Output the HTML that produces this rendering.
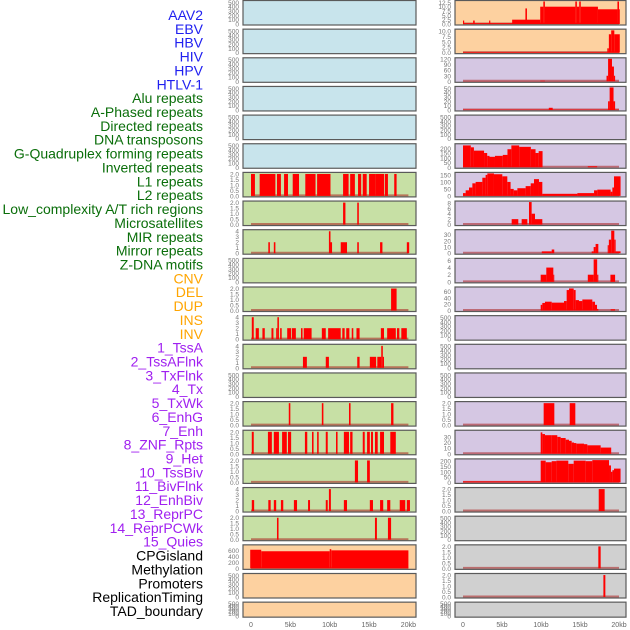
<!DOCTYPE html>
<html><head><meta charset="utf-8">
<style>
html,body{margin:0;padding:0;background:#fff;}
svg{display:block;font-family:"Liberation Sans",sans-serif;}
</style></head>
<body>
<svg id="chart" width="630" height="630" viewBox="0 0 630 630"></svg>
<script>
// ---- labels ----
const trackLabels = ["AAV2","EBV","HBV","HIV","HPV","HTLV-1","Alu repeats","A-Phased repeats","Directed repeats","DNA transposons","G-Quadruplex forming repeats","Inverted repeats","L1 repeats","L2 repeats","Low_complexity A/T rich regions","Microsatellites","MIR repeats","Mirror repeats","Z-DNA motifs","CNV","DEL","DUP","INS","INV","1_TssA","2_TssAFlnk","3_TxFlnk","4_Tx","5_TxWk","6_EnhG","7_Enh","8_ZNF_Rpts","9_Het","10_TssBiv","11_BivFlnk","12_EnhBiv","13_ReprPC","14_ReprPCWk","15_Quies","CPGisland","Methylation","Promoters","ReplicationTiming","TAD_boundary"];
const labelGroups = [6,13,5,15,5];
const groupColors = ["#2020f0","#0a6e0a","#ffa500","#a020f0","#000000"];
const xTickKb = [0,5,10,15,20];
const xTickText = ["0","5kb","10kb","15kb","20kb"];

// ---- tick sets ----
const T500 = [0,100,200,300,400,500];
const T2 = [0,0.5,1,1.5,2];
const T4 = [0,1,2,3,4];
const T10 = [0,2.5,5,7.5,10];
const T12 = [0,2.5,5,7.5,10,12.5];

// ---- left column data [startKb, endKb, value] ----
const segL6 = [[0,0.5,2],[1.1,3.1,2],[3.3,3.8,2],[4.2,4.7,2],[5.3,6.1,2],[6.9,8.2,2],[8.4,10.1,2],[11.7,12.4,2],[12.6,13.2,2],[13.6,14.0,2],[14.2,14.7,2],[15.0,15.8,2],[15.8,16.9,2],[17.0,17.4,2],[18.2,18.5,2]];
const segL7 = [[11.7,12.0,2],[13.5,13.7,2]];
const segL8 = [[2.2,2.4,2],[2.9,3.1,2],[9.9,10.1,4],[10.1,10.3,2],[11.4,12.2,2],[13.5,13.7,2],[16.4,16.7,2],[19.8,20.1,2]];
const segL10 = [[17.8,18.5,2]];
const segL11 = [[0.1,0.35,4],[0.6,1.0,2],[1.45,1.75,2],[2.6,2.85,2],[3.2,3.35,2],[3.35,3.55,4],[3.7,3.9,2],[4.6,5.1,2],[5.2,5.7,2],[6.35,6.55,2],[6.7,7.7,2],[9.0,9.5,2],[9.8,11.4,2],[11.6,11.9,2],[12.1,12.5,2],[12.8,13.0,2],[13.4,13.8,2],[16.5,16.9,2],[17.3,18.4,2],[18.55,18.85,2],[19.1,19.8,2]];
const segL12 = [[6.6,7.1,2],[9.5,9.9,2],[13.5,13.8,2],[15.1,15.9,2],[16.05,16.55,2],[16.55,16.75,4],[16.75,16.9,2]];
const segL14 = [[4.8,5.0,2],[9.0,9.2,2],[12.45,12.65,2],[17.8,18.1,2]];
const segL15 = [[0.1,0.35,2],[2.15,2.65,2],[2.9,3.55,2],[3.95,4.55,2],[4.7,5.1,2],[6.85,7.15,2],[7.75,7.95,2],[8.4,8.6,2],[9.5,9.75,2],[10.8,11.0,2],[11.8,12.45,2],[12.6,12.9,2],[14.2,14.45,2],[14.75,15.1,2],[15.25,15.5,2],[15.75,16.1,2],[16.4,16.9,2],[17.7,18.4,2]];
const segL16 = [[13.2,13.6,2],[14.75,15.1,2]];
const segL17 = [[0.1,0.4,2],[2.2,2.5,2],[2.9,3.2,2],[3.8,4.1,2],[5.45,5.85,2],[7.25,7.5,2],[9.5,9.75,2],[9.9,10.15,4],[11.8,12.2,2],[15.1,15.5,2],[16.4,16.8,2],[17.3,17.7,2],[18.9,19.6,2],[19.8,20.2,2]];
const segL18 = [[3.3,3.5,2],[15.75,16.0,2],[17.4,17.8,2]];
const segL19 = [[-0.1,1.3,620],[1.3,10.0,570],[10.0,10.2,640],[10.2,20.0,600]];

// ---- right column data ----
const segR0 = [[0,0.15,2],[0,20,0.5],[1.3,1.5,2],[3.35,3.5,2],[6.3,9.9,2.5],[8.0,8.2,9],[9.9,10.3,10],[10.3,10.5,13],[10.5,14.4,10],[14.4,14.6,13],[14.6,14.9,10],[14.9,15.1,13],[15.1,17.3,10],[17.3,19.8,8.5],[19.8,20.0,13],[20.0,20.1,8.5]];
const segR1 = [[0,20,0.3],[18.5,18.7,2],[18.7,19.0,8.5],[19.0,19.4,10.3],[19.4,20.1,8.5]];
const segR2 = [[0,20,1],[9.9,10.5,3],[18.4,18.6,30],[18.6,19.1,125],[19.1,19.35,80],[19.35,19.5,30]];
const segR3 = [[0,20,1],[11.0,11.5,5],[18.6,18.8,20],[18.8,19.3,52],[19.3,19.5,20]];
const segR5 = [[0,1,230],[1,1.4,210],[1.4,2.7,175],[2.7,3.1,150],[3.1,3.4,120],[3.4,4.1,110],[4.1,5.1,120],[5.1,5.7,130],[5.7,6.2,190],[6.2,7.2,230],[7.2,8.7,215],[8.7,9.3,190],[9.3,9.7,150],[9.7,10.2,170],[16.0,17.2,10]];
const segR6 = [[0,0.34,20],[0.34,0.77,40],[0.77,1.2,60],[1.2,1.62,90],[1.62,2.48,100],[2.48,2.9,130],[2.9,3.12,150],[3.12,3.97,165],[3.97,5.04,155],[5.04,5.68,140],[5.68,6.1,100],[6.1,6.5,50],[6.5,6.97,40],[6.97,8.03,55],[8.03,8.68,70],[8.68,9.1,90],[9.1,9.74,120],[9.74,10.17,100],[10.17,14.66,15],[14.66,16.8,20],[16.8,17.22,40],[17.22,18.93,45],[18.93,19.15,30],[19.15,19.36,60],[19.36,20.2,140]];
const segR7 = [[6.24,7.09,2],[7.52,8.25,2],[8.46,8.8,8.5],[8.8,9.23,4],[9.23,10.17,2]];
const segR8 = [[10.1,11.37,3],[11.37,11.7,6],[16.5,16.75,3],[16.75,17.0,10],[17.0,17.35,15],[18.55,18.7,13],[18.7,19.0,22],[19.0,19.4,37],[19.4,19.57,22],[19.57,20.2,3]];
const segR9 = [[9.96,10.68,2],[10.68,11.58,4],[11.58,11.7,2],[16.0,16.75,2],[16.75,17.2,6.5],[17.2,17.35,2],[18.9,19.5,2]];
const segR10 = [[9.96,10.17,18],[10.17,10.51,24],[10.51,11.37,28],[11.37,12.95,25],[12.95,13.29,30],[13.29,13.59,65],[13.59,14.19,70],[14.19,14.44,65],[14.44,14.87,33],[14.87,15.3,30],[15.3,16.58,35],[16.58,16.92,28],[16.92,17.18,18],[17.18,17.35,5],[18.93,19.49,4]];
const segR14 = [[10.34,11.71,2],[13.68,14.4,2]];
const segR15 = [[9.96,10.17,38],[10.17,10.51,35],[10.51,11.37,33],[11.37,12.09,33],[12.09,12.52,30],[12.52,13.16,28],[13.16,13.59,25],[13.59,13.93,23],[13.93,14.23,20],[14.23,14.53,19],[14.53,15.51,18],[15.51,15.94,17],[15.94,17.65,15],[17.65,19.0,11]];
const segR16 = [[0,9.96,10],[9.96,10.6,205],[10.6,11.37,190],[11.37,11.97,200],[11.97,13.5,205],[13.5,14.19,175],[14.19,15.73,205],[15.73,16.58,200],[16.58,18.72,210],[18.72,18.97,160],[18.97,19.15,100],[19.15,19.36,115],[19.36,20.2,130]];
const segR17 = [[17.4,18.16,2]];
const segR19 = [[17.35,17.65,2]];
const segR20 = [[18.0,18.25,2]];

// ---- panel configuration: [bg, ticks, ymax, segments] ----
const BLUE="#c8e4ec", GRN="#c7e0a5", PEA="#fdd1a0", LAV="#d5c7e3", GRY="#d0d0d0";
const leftPanels = [
 [BLUE,T500,520,null],[BLUE,T500,520,null],[BLUE,T500,520,null],[BLUE,T500,520,null],[BLUE,T500,520,null],[BLUE,T500,520,null],
 [GRN,T2,2.05,segL6],[GRN,T2,2.05,segL7],[GRN,T4,4.1,segL8],[GRN,T500,520,null],[GRN,T2,2.05,segL10],[GRN,T4,4.1,segL11],
 [GRN,T4,4.1,segL12],[GRN,T500,520,null],[GRN,T2,2.05,segL14],[GRN,T2,2.05,segL15],[GRN,T2,2.05,segL16],[GRN,T4,4.1,segL17],
 [GRN,T2,2.05,segL18],[PEA,[0,200,400,600],750,segL19],[PEA,T500,520,null],[PEA,T500,520,null]
];
const rightPanels = [
 [PEA,T12,13,segR0],[PEA,T10,10.4,segR1],[LAV,[0,30,60,90,120],122,segR2],[LAV,[0,10,20,30,40,50],52,segR3],[LAV,T500,520,null],
 [LAV,[0,50,100,150,200],237,segR5],[LAV,[0,50,100,150],161,segR6],[LAV,[0,2,4,6,8],8.3,segR7],[LAV,[0,10,20,30],36.5,segR8],
 [LAV,[0,2,4,6],6.3,segR9],[LAV,[0,20,40,60],71.5,segR10],[LAV,T500,520,null],[LAV,T500,520,null],[LAV,T500,520,null],
 [LAV,T2,2.05,segR14],[LAV,[0,10,20,30],40,segR15],[LAV,[0,50,100,150,200],212,segR16],[GRY,T2,2.05,segR17],
 [GRY,T500,520,null],[GRY,T2,2.05,segR19],[GRY,T2,2.05,segR20],[GRY,T500,520,null]
];

const NS="http://www.w3.org/2000/svg";
const svg=document.getElementById('chart');
function mk(tag,attrs,parent){const e=document.createElementNS(NS,tag);for(const k in attrs)e.setAttribute(k,attrs[k]);(parent||svg).appendChild(e);return e;}

// labels
let li=0;
labelGroups.forEach((n,g)=>{
  for(let j=0;j<n;j++){
    const t=mk('text',{x:203,y:20+li*13.86,'text-anchor':'end','font-size':'14',fill:groupColors[g]});
    
    
    t.textContent=trackLabels[li];li++;
  }
});

const cols=[{x0:243,x1:416,zero:251,pk:7.87,tx:239,panels:leftPanels},{x0:455,x1:626,zero:463,pk:7.8,tx:451,panels:rightPanels}];
function fmt(v,ticks){const step=ticks[1]-ticks[0];return step<1||step%1!==0?v.toFixed(1):String(v);}

cols.forEach((c,ci)=>{
  const xs=kb=>c.zero+kb*c.pk;
  c.panels.forEach((p,i)=>{
    const [bg,ticks,ymax,segs]=p;
    const top=0.5+i*28.65, h=(i===21?15:24.5), bot=top+h;
    const ys=v=>bot-1-Math.min(v,ymax)/ymax*(h-2);
    const g=mk('g',{});
    
    
    mk('rect',{x:c.x0,y:top,width:c.x1-c.x0,height:h,fill:bg},g);
    if(segs){
      mk('line',{x1:xs(0),x2:xs(20),y1:bot-1.5,y2:bot-1.5,stroke:'rgba(170,30,30,0.55)','stroke-width':2},g);
      segs.forEach(s=>{
        const r=mk('rect',{x:xs(s[0]),y:ys(s[2]),width:Math.max(0.8,xs(s[1])-xs(s[0])),height:bot-1-ys(s[2]),fill:'#ff0000'},g);
        
        
      });
    }
    mk('rect',{x:c.x0,y:top,width:c.x1-c.x0,height:h,fill:'none',stroke:'#5a5a5a','stroke-width':1.2},g);
    ticks.forEach(v=>{
      const t=mk('text',{x:c.tx,y:ys(v)+2.5,'text-anchor':'end','font-size':'6.5',fill:'#777'},g);
      
      
      t.textContent=fmt(v,ticks);
    });
  });
  xTickKb.forEach((k,j)=>{
    const t=mk('text',{x:xs(k),y:627,'text-anchor':'middle','font-size':'7',fill:'#666'});
    
    
    t.textContent=xTickText[j];
  });
});
</script>
</body></html>
